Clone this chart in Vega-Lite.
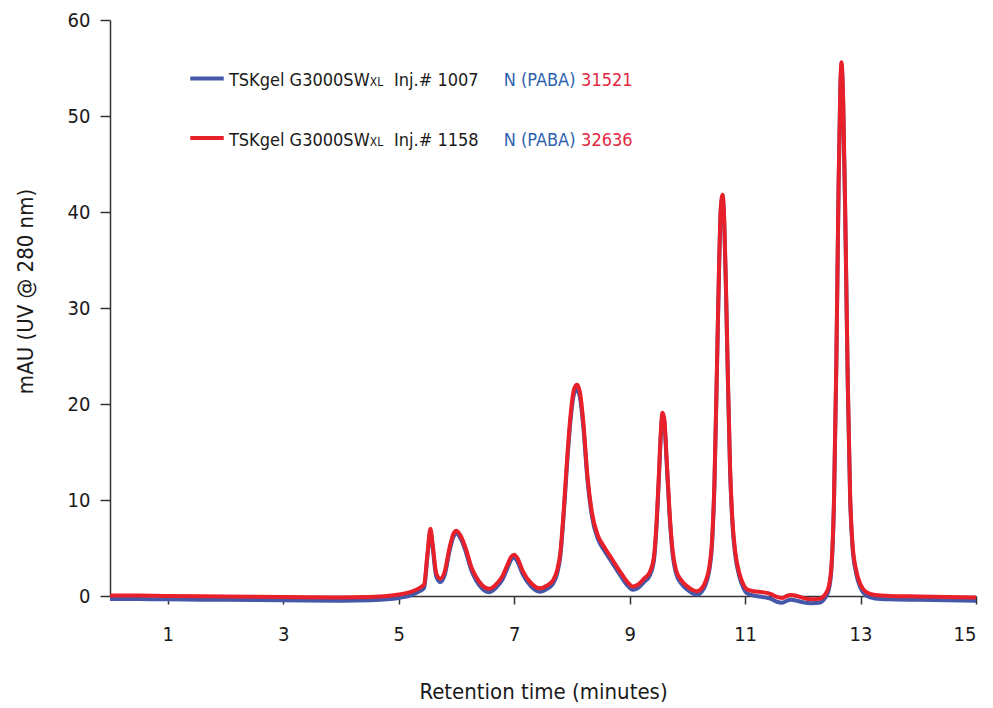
{
  "$schema": "https://vega.github.io/schema/vega-lite/v6.json",
  "width": 866,
  "height": 576,
  "autosize": {"type": "none"},
  "padding": {"left": 110, "top": 20, "right": 17, "bottom": 112},
  "background": "white",
  "config": {
    "view": {"stroke": null},
    "font": "DejaVu Sans Condensed, sans-serif",
    "axis": {
      "labelFont": "DejaVu Sans Condensed, sans-serif",
      "titleFont": "DejaVu Sans Condensed, sans-serif",
      "labelFontSize": 20,
      "titleFontSize": 22,
      "titleFontWeight": "normal",
      "labelColor": "#1a1a1a",
      "titleColor": "#1a1a1a",
      "domainColor": "#333333",
      "tickColor": "#333333",
      "domainWidth": 1.5,
      "tickWidth": 1.5,
      "grid": false
    }
  },
  "datasets": {
    "trace": [
      {"t": 0.0, "red": 0.05, "blue": -0.3},
      {"t": 0.5, "red": 0.05, "blue": -0.3},
      {"t": 1.0, "red": 0.0, "blue": -0.35},
      {"t": 2.0, "red": -0.05, "blue": -0.4},
      {"t": 3.0, "red": -0.1, "blue": -0.45},
      {"t": 4.0, "red": -0.15, "blue": -0.5},
      {"t": 4.5, "red": -0.1, "blue": -0.45},
      {"t": 4.8, "red": 0.0, "blue": -0.35},
      {"t": 5.0, "red": 0.15, "blue": -0.2},
      {"t": 5.2, "red": 0.4, "blue": 0.05},
      {"t": 5.35, "red": 0.8, "blue": 0.45},
      {"t": 5.44, "red": 1.2, "blue": 0.85},
      {"t": 5.5, "red": 4.5, "blue": 4.2},
      {"t": 5.55, "red": 7.0, "blue": 6.7},
      {"t": 5.59, "red": 5.3, "blue": 5.0},
      {"t": 5.65, "red": 2.4, "blue": 2.05},
      {"t": 5.72, "red": 1.8, "blue": 1.45},
      {"t": 5.8, "red": 2.6, "blue": 2.25},
      {"t": 5.88, "red": 5.0, "blue": 4.65},
      {"t": 5.95, "red": 6.5, "blue": 6.2},
      {"t": 6.0, "red": 6.8, "blue": 6.5},
      {"t": 6.08, "red": 6.2, "blue": 5.9},
      {"t": 6.17, "red": 4.8, "blue": 4.45},
      {"t": 6.26, "red": 3.0, "blue": 2.65},
      {"t": 6.34, "red": 2.0, "blue": 1.65},
      {"t": 6.45, "red": 1.1, "blue": 0.75},
      {"t": 6.57, "red": 0.75, "blue": 0.4},
      {"t": 6.7, "red": 1.3, "blue": 0.95},
      {"t": 6.8, "red": 2.1, "blue": 1.75},
      {"t": 6.88, "red": 3.2, "blue": 2.85},
      {"t": 6.95, "red": 4.1, "blue": 3.8},
      {"t": 7.0, "red": 4.3, "blue": 4.0},
      {"t": 7.06, "red": 3.9, "blue": 3.55},
      {"t": 7.15, "red": 2.6, "blue": 2.25},
      {"t": 7.3, "red": 1.3, "blue": 0.95},
      {"t": 7.44, "red": 0.8, "blue": 0.45},
      {"t": 7.57, "red": 1.1, "blue": 0.75},
      {"t": 7.67, "red": 1.6, "blue": 1.25},
      {"t": 7.75, "red": 2.8, "blue": 2.45},
      {"t": 7.8, "red": 4.5, "blue": 4.15},
      {"t": 7.86, "red": 9.0, "blue": 8.6},
      {"t": 7.92, "red": 14.5, "blue": 14.0},
      {"t": 7.98, "red": 19.0, "blue": 18.5},
      {"t": 8.04, "red": 21.6, "blue": 21.1},
      {"t": 8.09, "red": 22.0, "blue": 21.5},
      {"t": 8.14, "red": 21.2, "blue": 20.7},
      {"t": 8.2, "red": 18.0, "blue": 17.5},
      {"t": 8.27, "red": 12.5, "blue": 12.1},
      {"t": 8.35, "red": 8.6, "blue": 8.2},
      {"t": 8.45, "red": 6.3, "blue": 5.95},
      {"t": 8.55, "red": 5.2, "blue": 4.85},
      {"t": 8.7, "red": 3.8, "blue": 3.45},
      {"t": 8.85, "red": 2.4, "blue": 2.05},
      {"t": 8.97, "red": 1.4, "blue": 1.05},
      {"t": 9.05, "red": 1.0, "blue": 0.65},
      {"t": 9.15, "red": 1.2, "blue": 0.85},
      {"t": 9.25, "red": 1.8, "blue": 1.45},
      {"t": 9.35, "red": 2.5, "blue": 2.15},
      {"t": 9.42, "red": 4.0, "blue": 3.65},
      {"t": 9.47, "red": 8.0, "blue": 7.6},
      {"t": 9.51, "red": 13.0, "blue": 12.6},
      {"t": 9.54, "red": 17.0, "blue": 16.6},
      {"t": 9.57, "red": 19.1, "blue": 18.8},
      {"t": 9.6, "red": 18.5, "blue": 18.2},
      {"t": 9.64, "red": 14.5, "blue": 14.1},
      {"t": 9.69, "red": 9.0, "blue": 8.6},
      {"t": 9.74, "red": 5.0, "blue": 4.65},
      {"t": 9.8, "red": 2.8, "blue": 2.45},
      {"t": 9.9, "red": 1.6, "blue": 1.25},
      {"t": 10.0, "red": 1.0, "blue": 0.65},
      {"t": 10.1, "red": 0.6, "blue": 0.25},
      {"t": 10.17, "red": 0.5, "blue": 0.15},
      {"t": 10.25, "red": 0.8, "blue": 0.45},
      {"t": 10.32, "red": 1.6, "blue": 1.25},
      {"t": 10.38, "red": 3.0, "blue": 2.65},
      {"t": 10.43, "red": 6.0, "blue": 5.6},
      {"t": 10.47, "red": 12.0, "blue": 11.6},
      {"t": 10.51, "red": 23.0, "blue": 22.6},
      {"t": 10.55, "red": 34.5, "blue": 34.1},
      {"t": 10.58, "red": 40.5, "blue": 40.2},
      {"t": 10.61, "red": 41.8, "blue": 41.5},
      {"t": 10.64, "red": 39.0, "blue": 38.7},
      {"t": 10.67, "red": 32.0, "blue": 31.6},
      {"t": 10.7, "red": 23.5, "blue": 23.1},
      {"t": 10.74, "red": 13.5, "blue": 13.1},
      {"t": 10.78, "red": 8.0, "blue": 7.6},
      {"t": 10.83, "red": 4.6, "blue": 4.25},
      {"t": 10.9, "red": 2.4, "blue": 2.05},
      {"t": 10.97, "red": 1.2, "blue": 0.85},
      {"t": 11.03, "red": 0.7, "blue": 0.3},
      {"t": 11.15, "red": 0.5, "blue": 0.05},
      {"t": 11.3, "red": 0.4, "blue": -0.1},
      {"t": 11.45, "red": 0.2, "blue": -0.3},
      {"t": 11.55, "red": -0.1, "blue": -0.6},
      {"t": 11.65, "red": -0.2, "blue": -0.7},
      {"t": 11.72, "red": 0.0, "blue": -0.5},
      {"t": 11.8, "red": 0.1, "blue": -0.4},
      {"t": 11.9, "red": 0.0, "blue": -0.5},
      {"t": 12.0, "red": -0.2, "blue": -0.65},
      {"t": 12.15, "red": -0.35, "blue": -0.75},
      {"t": 12.28, "red": -0.3, "blue": -0.7},
      {"t": 12.38, "red": 0.1, "blue": -0.25},
      {"t": 12.45, "red": 1.0, "blue": 0.65},
      {"t": 12.5, "red": 3.5, "blue": 3.15},
      {"t": 12.54, "red": 10.0, "blue": 9.6},
      {"t": 12.58, "red": 24.0, "blue": 23.6},
      {"t": 12.62, "red": 43.0, "blue": 42.6},
      {"t": 12.65, "red": 53.0, "blue": 52.7},
      {"t": 12.67, "red": 55.6, "blue": 55.3},
      {"t": 12.7, "red": 51.5, "blue": 51.2},
      {"t": 12.74, "red": 38.0, "blue": 37.6},
      {"t": 12.78, "red": 22.0, "blue": 21.6},
      {"t": 12.82, "red": 10.5, "blue": 10.1},
      {"t": 12.86, "red": 5.5, "blue": 5.15},
      {"t": 12.92, "red": 2.8, "blue": 2.45},
      {"t": 13.0, "red": 1.2, "blue": 0.85},
      {"t": 13.1, "red": 0.4, "blue": 0.05},
      {"t": 13.25, "red": 0.1, "blue": -0.25},
      {"t": 13.5, "red": 0.0, "blue": -0.35},
      {"t": 14.0, "red": -0.05, "blue": -0.4},
      {"t": 14.5, "red": -0.1, "blue": -0.45},
      {"t": 15.0, "red": -0.15, "blue": -0.5}
    ],
    "legend": [
      {"series": "blue", "x": 1.39, "x2": 1.97, "yline": 53.9, "ytext": 53.1, "name": "TSKgel G3000SW", "sub": "XL", "inj": "Inj.# 1007", "paba": "N (PABA)", "num": "31521"},
      {"series": "red", "x": 1.39, "x2": 1.97, "yline": 47.7, "ytext": 46.9, "name": "TSKgel G3000SW", "sub": "XL", "inj": "Inj.# 1158", "paba": "N (PABA)", "num": "32636"}
    ]
  },
  "layer": [
    {
      "data": {"name": "trace"},
      "mark": {"type": "line", "color": "#4557A8", "strokeWidth": 4, "interpolate": "monotone", "clip": false},
      "encoding": {
        "x": {"field": "t", "type": "quantitative",
          "scale": {"domain": [0, 15], "nice": false, "zero": false},
          "axis": {"values": [1, 3, 5, 7, 9, 11, 13, 15], "format": "d", "tickSize": 8, "labelPadding": 20,
            "title": "Retention time (minutes)", "titleY": 95, "titleBaseline": "middle"}},
        "y": {"field": "blue", "type": "quantitative",
          "scale": {"domain": [0, 60], "nice": false, "zero": false},
          "axis": {"values": [0, 10, 20, 30, 40, 50, 60], "format": "d", "tickSize": 10, "labelPadding": 10,
            "title": "mAU (UV @ 280 nm)", "titleX": -85, "titleY": 271, "titleBaseline": "middle", "titleAlign": "center", "titleAngle": -90}}
      }
    },
    {
      "data": {"name": "trace"},
      "mark": {"type": "line", "color": "#E8202A", "strokeWidth": 4, "interpolate": "monotone", "clip": false},
      "encoding": {
        "x": {"field": "t", "type": "quantitative"},
        "y": {"field": "red", "type": "quantitative"}
      }
    },
    {
      "data": {"name": "legend"},
      "mark": {"type": "rule", "strokeWidth": 4},
      "encoding": {
        "x": {"field": "x", "type": "quantitative"},
        "x2": {"field": "x2"},
        "y": {"field": "yline", "type": "quantitative"},
        "color": {"field": "series", "type": "nominal", "scale": {"domain": ["blue", "red"], "range": ["#4557A8", "#E8202A"]}, "legend": null}
      }
    },
    {
      "data": {"name": "legend"},
      "mark": {"type": "text", "align": "left", "baseline": "alphabetic", "fontSize": 18, "color": "#1a1a1a"},
      "encoding": {
        "x": {"datum": 2.06, "type": "quantitative"},
        "y": {"field": "ytext", "type": "quantitative"},
        "text": {"field": "name"}
      }
    },
    {
      "data": {"name": "legend"},
      "mark": {"type": "text", "align": "left", "baseline": "alphabetic", "fontSize": 12, "color": "#1a1a1a"},
      "encoding": {
        "x": {"datum": 4.5, "type": "quantitative"},
        "y": {"field": "ytext", "type": "quantitative"},
        "text": {"field": "sub"}
      }
    },
    {
      "data": {"name": "legend"},
      "mark": {"type": "text", "align": "left", "baseline": "alphabetic", "fontSize": 18, "color": "#1a1a1a"},
      "encoding": {
        "x": {"datum": 4.92, "type": "quantitative"},
        "y": {"field": "ytext", "type": "quantitative"},
        "text": {"field": "inj"}
      }
    },
    {
      "data": {"name": "legend"},
      "mark": {"type": "text", "align": "left", "baseline": "alphabetic", "fontSize": 18, "color": "#2E62AE"},
      "encoding": {
        "x": {"datum": 6.82, "type": "quantitative"},
        "y": {"field": "ytext", "type": "quantitative"},
        "text": {"field": "paba"}
      }
    },
    {
      "data": {"name": "legend"},
      "mark": {"type": "text", "align": "left", "baseline": "alphabetic", "fontSize": 18, "color": "#E2283F"},
      "encoding": {
        "x": {"datum": 8.16, "type": "quantitative"},
        "y": {"field": "ytext", "type": "quantitative"},
        "text": {"field": "num"}
      }
    }
  ]
}
